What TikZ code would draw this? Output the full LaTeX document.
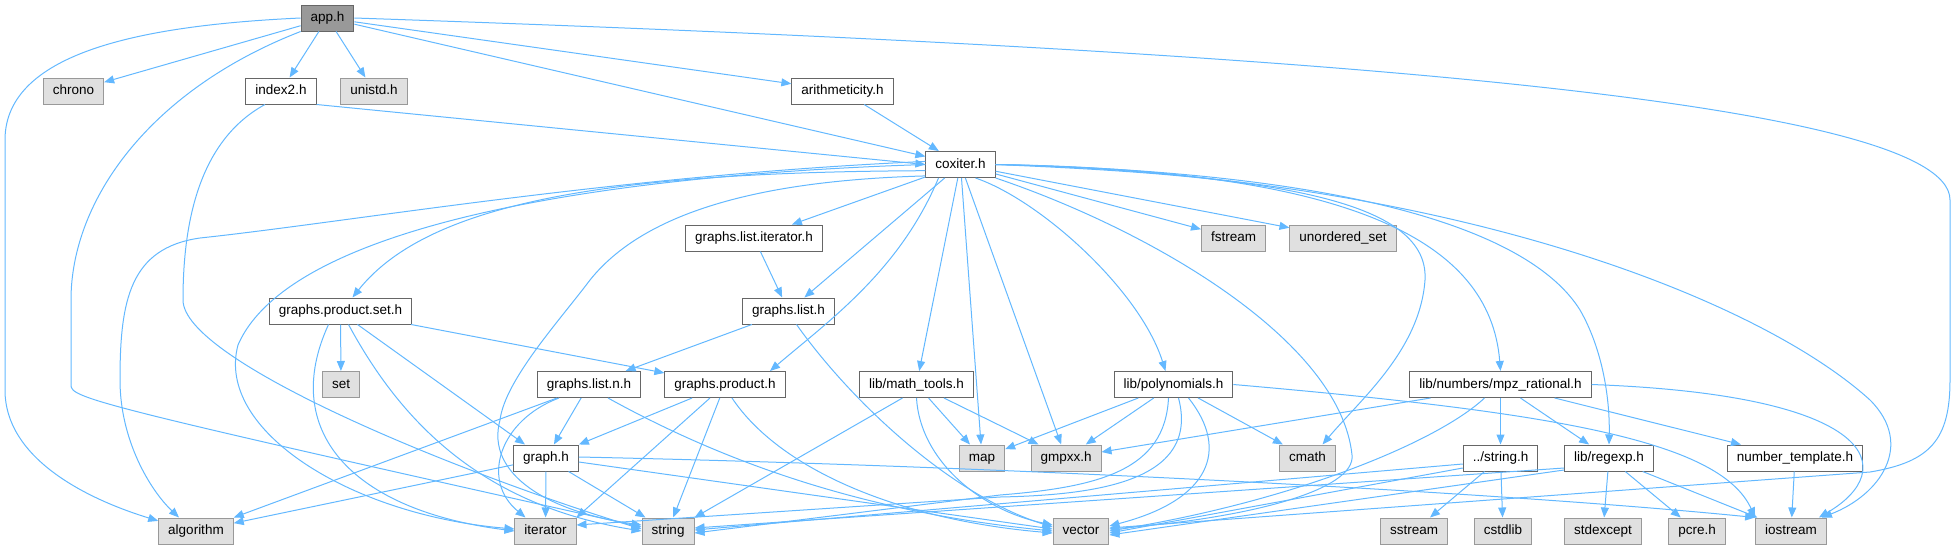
\documentclass[tikz,border=0pt]{standalone}
\usepackage{fontspec}
\setmainfont{Liberation Sans}
\usetikzlibrary{arrows.meta}
\definecolor{edgeblue}{HTML}{63B8FF}
\definecolor{boxline}{HTML}{666666}
\definecolor{sysline}{HTML}{999999}
\definecolor{sysfill}{HTML}{E0E0E0}
\definecolor{curfill}{HTML}{999999}

\begin{document}
\begin{tikzpicture}[
			x=1pt, y=-1pt,
			box/.style={rectangle, draw=boxline, fill=white, line width=1pt, minimum height=26pt, inner xsep=9.5pt, text height=10pt, text depth=2.8pt, font=\fontsize{13.5}{16}\selectfont},
			sysbox/.style={box, draw=sysline, fill=sysfill},
			curbox/.style={box, fill=curfill},
			dep/.style={draw=edgeblue, line width=1pt, -{Triangle[length=10pt,width=8pt]}}
			]
			\useasboundingbox (0,0) rectangle (1956,549);
			\node[curbox] (app) at (327.5,18) {app.h};
			\node[sysbox] (chrono) at (73.5,91) {chrono};
			\node[box] (index2) at (281,91) {index2.h};
			\node[sysbox] (unistd) at (374,91) {unistd.h};
			\node[box] (arith) at (842.5,91) {arithmeticity.h};
			\node[box] (coxiter) at (960.5,164.5) {coxiter.h};
			\node[box] (listiter) at (754,238) {graphs.list.iterator.h};
			\node[sysbox] (fstream) at (1233.5,238) {fstream};
			\node[sysbox] (uset) at (1343,238) {unordered\_set};
			\node[box] (prodset) at (340.5,311) {graphs.product.set.h};
			\node[box] (list) at (788.5,311) {graphs.list.h};
			\node[sysbox] (set) at (341,384.5) {set};
			\node[box] (listn) at (589,384.5) {graphs.list.n.h};
			\node[box] (product) at (725,384.5) {graphs.product.h};
			\node[box] (mathtools) at (916.5,384.5) {lib/math\_tools.h};
			\node[box] (poly) at (1173.5,384.5) {lib/polynomials.h};
			\node[box] (mpz) at (1500.5,384.5) {lib/numbers/mpz\_rational.h};
			\node[sysbox] (map) at (982,458) {map};
			\node[sysbox] (gmpxx) at (1066,458) {gmpxx.h};
			\node[sysbox] (cmath) at (1307.5,458) {cmath};
			\node[box] (graph) at (546,458) {graph.h};
			\node[box] (strh) at (1500.5,458) {../string.h};
			\node[box] (regexp) at (1609,458) {lib/regexp.h};
			\node[box] (numtpl) at (1795,458) {number\_template.h};
			\node[sysbox] (algorithm) at (196,531) {algorithm};
			\node[sysbox] (iterator) at (545.5,531) {iterator};
			\node[sysbox] (string) at (668,531) {string};
			\node[sysbox] (vector) at (1081,531) {vector};
			\node[sysbox] (sstream) at (1414,531) {sstream};
			\node[sysbox] (cstdlib) at (1503,531) {cstdlib};
			\node[sysbox] (stdexcept) at (1603,531) {stdexcept};
			\node[sysbox] (pcre) at (1697,531) {pcre.h};
			\node[sysbox] (iostream) at (1791,531) {iostream};
			\draw[dep] (app.west) .. controls (150,25) and (5,50) .. (5,140) -- (5,390) .. controls (5,460) and (90,500) .. (algorithm.165);
			\draw[dep] (app) -- (chrono);
			\draw[dep] (app.south west) .. controls (150,90) and (71,200) .. (71,300) -- (71,385) .. controls (71,398) and (90,404) .. ([yshift=4pt]string.west);
			\draw[dep] (app) -- (index2);
			\draw[dep] (app) -- (unistd);
			\draw[dep] (app) -- (arith);
			\draw[dep] (app) -- (coxiter);
			\draw[dep] (app.east) .. controls (1300,50) and (1950,100) .. (1950,200) -- (1950,380) .. controls (1950,440) and (1930,462) .. (1870,472) -- ([yshift=3pt]vector.east);
			\draw[dep] (index2.south east) -- (coxiter.west);
			\draw[dep] ([xshift=-16pt]index2.south) .. controls (200,140) and (183,220) .. (183,300) .. controls (183,360) and (450,470) .. ([yshift=2pt]string.west);
			\draw[dep] (arith) -- (coxiter);
			\draw[dep] (coxiter) -- (listiter);
			\draw[dep] (coxiter) -- (list);
			\draw[dep] (coxiter.190) .. controls (620,172) and (430,200) .. ([xshift=12pt]prodset.north);
			\draw[dep] ([xshift=-22pt]coxiter.south) .. controls (900,270) and (830,320) .. ([xshift=45pt]product.north);
			\draw[dep] (coxiter) -- (mathtools);
			\draw[dep] (coxiter) -- (map);
			\draw[dep] (coxiter) -- (gmpxx);
			\draw[dep] ([xshift=15pt]coxiter.south) .. controls (1040,200) and (1140,290) .. ([xshift=-8pt]poly.north);
			\draw[dep] (coxiter) -- (fstream);
			\draw[dep] (coxiter) -- (uset);
			\draw[dep] (coxiter.east) .. controls (1250,175) and (1430,195) .. (1425,280) .. controls (1420,350) and (1360,400) .. ([xshift=15pt]cmath.north);
			\draw[dep] (coxiter.east) .. controls (1350,170) and (1490,240) .. (mpz.north);
			\draw[dep] (coxiter.east) .. controls (1350,172) and (1530,230) .. (1580,310) .. controls (1603,350) and (1610,400) .. (regexp.north);
			\draw[dep] (coxiter.east) .. controls (1450,175) and (1760,300) .. (1870,400) .. controls (1915,445) and (1880,495) .. ([xshift=-5pt]iostream.north east);
			\draw[dep] (coxiter.south east) .. controls (1150,230) and (1340,340) .. (1352,455) .. controls (1356,490) and (1250,518) .. ([yshift=2pt]vector.east);
			\draw[dep] (coxiter.198) .. controls (780,180) and (650,205) .. (590,280) .. controls (560,320) and (505,380) .. (500,420) .. controls (485,475) and (550,512) .. ([yshift=6pt]string.west);
			\draw[dep] (coxiter.west) .. controls (600,175) and (290,225) .. (238,345) .. controls (215,430) and (350,515) .. ([yshift=2pt]iterator.west);
			\draw[dep] (coxiter.175) .. controls (620,175) and (350,222) .. (200,238) .. controls (130,248) and (120,300) .. (120,380) .. controls (120,440) and (150,490) .. ([xshift=-17pt]algorithm.north);
			\draw[dep] (listiter) -- (list);
			\draw[dep] (list) -- (listn);
			\draw[dep] ([xshift=8pt]list.south) .. controls (850,400) and (950,495) .. ([yshift=4pt]vector.west);
			\draw[dep] (prodset) -- (set);
			\draw[dep] ([xshift=-12pt]prodset.south) .. controls (280,430) and (350,510) .. (iterator.west);
			\draw[dep] ([xshift=8pt]prodset.south) .. controls (400,420) and (480,505) .. (string.west);
			\draw[dep] ([xshift=17pt]prodset.south) -- ([xshift=-21pt]graph.north);
			\draw[dep] (prodset) -- (product);
			\draw[dep] ([xshift=-32pt]listn.south) -- (algorithm.north east);
			\draw[dep] (listn) -- (graph);
			\draw[dep] ([xshift=-30pt]listn.south) .. controls (500,420) and (480,480) .. ([xshift=-20pt]iterator.north);
			\draw[dep] ([xshift=19pt]listn.south) .. controls (720,460) and (860,512) .. (vector.west);
			\draw[dep] (product) -- (graph);
			\draw[dep] ([xshift=-15pt]product.south) -- (iterator.north east);
			\draw[dep] (product) -- (string);
			\draw[dep] ([xshift=7pt]product.south) .. controls (780,470) and (900,520) .. ([yshift=-2pt]vector.west);
			\draw[dep] (graph) -- (algorithm);
			\draw[dep] (graph) -- (iterator);
			\draw[dep] (graph) -- (string);
			\draw[dep] ([yshift=-4pt]graph.east) -- ([yshift=2pt]vector.west);
			\draw[dep] ([yshift=1pt]graph.east) .. controls (1000,466) and (1500,492) .. (iostream.north west);
			\draw[dep] ([xshift=-14pt]mathtools.south) -- (string.north east);
			\draw[dep] (mathtools.south) .. controls (920,460) and (980,510) .. ([yshift=6pt]vector.west);
			\draw[dep] (mathtools) -- (map);
			\draw[dep] (mathtools) -- (gmpxx);
			\draw[dep] (poly) -- (map);
			\draw[dep] (poly) -- (gmpxx);
			\draw[dep] (poly) -- (cmath);
			\draw[dep] ([xshift=-5pt]poly.south) .. controls (1165,470) and (1100,487) .. (1000,495) -- ([yshift=-2pt]string.east);
			\draw[dep] ([xshift=5pt]poly.south) .. controls (1200,480) and (1100,495) .. (1000,497) -- ([yshift=6pt]iterator.east);
			\draw[dep] ([xshift=15pt]poly.south) .. controls (1230,450) and (1210,500) .. ([yshift=5pt]vector.east);
			\draw[dep] (poly.east) .. controls (1550,412) and (1720,440) .. (iostream.north west);
			\draw[dep] ([xshift=-70pt]mpz.south) -- ([yshift=6pt]gmpxx.east);
			\draw[dep] ([xshift=-16pt]mpz.south) .. controls (1440,440) and (1300,500) .. (vector.east);
			\draw[dep] (mpz) -- (strh);
			\draw[dep] (mpz) -- (regexp);
			\draw[dep] (mpz) -- (numtpl);
			\draw[dep] (mpz.east) .. controls (1880,395) and (1900,470) .. ([xshift=-8pt]iostream.north east);
			\draw[dep] (strh) -- (sstream);
			\draw[dep] (strh) -- (cstdlib);
			\draw[dep] ([yshift=-6pt]strh.west) -- ([yshift=1pt]string.east);
			\draw[dep] ([yshift=-10pt]strh.west) -- ([yshift=-2pt]vector.east);
			\draw[dep] ([yshift=-10pt]regexp.west) -- ([yshift=3pt]string.east);
			\draw[dep] ([yshift=-12pt]regexp.west) -- ([yshift=-4pt]vector.east);
			\draw[dep] (regexp) -- (stdexcept);
			\draw[dep] (regexp) -- (pcre);
			\draw[dep] (regexp) -- (iostream);
			\draw[dep] (numtpl) -- (iostream);
		\end{tikzpicture}
\end{document}
